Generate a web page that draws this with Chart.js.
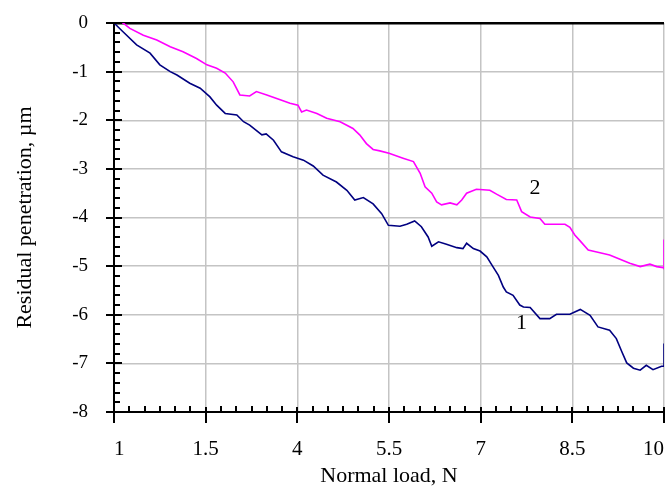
<!DOCTYPE html>
<html>
<head>
<meta charset="utf-8">
<script src="https://cdn.jsdelivr.net/npm/chart.js@4/dist/chart.umd.min.js"></script>
<style>
body { margin: 0; background: #fff; }
canvas { display: block; }
</style>
</head>
<body>
<canvas id="graph" width="666" height="490"></canvas>
<script>
// curve 1 (navy)
var blueX = [1.00,1.13,1.37,1.59,1.75,1.92,2.03,2.24,2.41,2.57,2.68,2.82,3.01,3.12,3.22,3.42,3.49,3.61,3.74,3.93,
    4.10,4.26,4.42,4.64,4.81,4.94,5.08,5.24,5.38,5.49,5.68,5.79,5.92,6.03,6.14,6.20,6.31,6.44,6.61,6.71,
    6.77,6.88,6.99,7.10,7.20,7.29,7.37,7.42,7.53,7.64,7.70,7.81,7.97,8.13,8.24,8.46,8.63,8.79,8.92,9.11,
    9.22,9.31,9.39,9.50,9.61,9.71,9.82,9.96,10.00,10.00];
var blueY = [0,-0.16,-0.45,-0.62,-0.86,-1.00,-1.07,-1.24,-1.34,-1.52,-1.69,-1.86,-1.89,-2.03,-2.10,-2.30,-2.28,-2.41,-2.65,-2.75,
    -2.82,-2.94,-3.13,-3.27,-3.44,-3.64,-3.59,-3.72,-3.92,-4.16,-4.18,-4.14,-4.07,-4.19,-4.40,-4.59,-4.50,-4.55,-4.62,-4.64,
    -4.53,-4.64,-4.69,-4.81,-5.01,-5.19,-5.43,-5.53,-5.60,-5.80,-5.84,-5.85,-6.08,-6.08,-5.99,-5.99,-5.89,-6.01,-6.25,-6.32,
    -6.49,-6.76,-6.99,-7.10,-7.14,-7.04,-7.13,-7.06,-7.06,-6.59];

// curve 2 (magenta)
var magX = [1.00,1.15,1.26,1.48,1.70,1.92,2.13,2.35,2.52,2.68,2.82,2.95,3.06,3.22,3.33,3.50,3.72,3.88,4.01,4.07,
    4.15,4.32,4.48,4.70,4.91,5.02,5.13,5.24,5.35,5.50,5.73,5.90,6.01,6.09,6.20,6.28,6.36,6.50,6.61,6.69,
    6.77,6.93,7.15,7.26,7.42,7.59,7.67,7.81,7.97,8.05,8.38,8.46,8.54,8.62,8.76,8.90,9.11,9.28,9.44,9.61,
    9.77,9.88,9.99,10.00,10.00];
var magY = [0,0,-0.11,-0.25,-0.35,-0.49,-0.59,-0.73,-0.86,-0.93,-1.03,-1.21,-1.48,-1.50,-1.41,-1.48,-1.58,-1.65,-1.69,-1.83,
    -1.79,-1.86,-1.96,-2.03,-2.17,-2.30,-2.48,-2.60,-2.63,-2.68,-2.78,-2.85,-3.09,-3.37,-3.50,-3.68,-3.74,-3.70,-3.74,-3.64,
    -3.50,-3.42,-3.44,-3.52,-3.63,-3.64,-3.88,-3.99,-4.02,-4.14,-4.14,-4.20,-4.36,-4.47,-4.67,-4.71,-4.77,-4.86,-4.94,-5.01,
    -4.96,-5.01,-5.03,-5.05,-4.45];

// x tick labels as printed on the original (second one reads 1.5)
var xTickValues = [1, 2.5, 4, 5.5, 7, 8.5, 10];
var xTickLabels = ['1', '1.5', '4', '5.5', '7', '8.5', '10'];

// curve numbers written next to the lines
var noteText = ['1', '2'];
var noteX = [7.67, 7.89];
var noteY = [-6.17, -3.40];

function toPoints(xs, ys)
{
    var pts = [];
    for (var i = 0; i < xs.length; i++) {
        pts.push({x: xs[i], y: ys[i]});
    }
    return pts;
}

var serif = "'Liberation Serif', 'Times New Roman', serif";

// minor/major tick marks and curve numbers
var axisMarks = {
    id: 'axisMarks',
    afterDraw: function(chart) {
        var ctx = chart.ctx;
        var xs = chart.scales.x;
        var ys = chart.scales.y;
        var left = chart.chartArea.left;
        var bottom = chart.chartArea.bottom;

        ctx.save();
        ctx.strokeStyle = '#000';
        ctx.lineWidth = 2;
        ctx.beginPath();
        // y axis: minor every 0.2, major every 1
        for (var k = 0; k <= 40; k++) {
            var py = Math.round(ys.getPixelForValue(-k * 0.2));
            if (k % 5 == 0) {
                ctx.moveTo(left - 8, py);
                ctx.lineTo(left + 8, py);
            } else {
                ctx.moveTo(left, py);
                ctx.lineTo(left + 6, py);
            }
        }
        // x axis: minor every 0.25, major every 1.5
        for (var j = 0; j <= 36; j++) {
            var px = Math.round(xs.getPixelForValue(1 + j * 0.25));
            if (j % 6 == 0) {
                ctx.moveTo(px, bottom - 5);
                ctx.lineTo(px, bottom + 11);
            } else {
                ctx.moveTo(px, bottom);
                ctx.lineTo(px, bottom - 6);
            }
        }
        ctx.stroke();

        ctx.fillStyle = '#000';
        ctx.font = '22px ' + serif;
        ctx.textAlign = 'center';
        ctx.textBaseline = 'middle';
        for (var n = 0; n < noteText.length; n++) {
            ctx.fillText(noteText[n], xs.getPixelForValue(noteX[n]), ys.getPixelForValue(noteY[n]));
        }
        ctx.restore();
    }
};

var ctx = document.getElementById('graph');

var myChart = new Chart(ctx, {
    type: 'line',
    data: {
        datasets: [
            {
                label: '1',
                data: toPoints(blueX, blueY),
                borderColor: '#000080',
                borderWidth: 1.6,
                pointRadius: 0,
                tension: 0,
                fill: false
            },
            {
                label: '2',
                data: toPoints(magX, magY),
                borderColor: '#ff00ff',
                borderWidth: 1.6,
                pointRadius: 0,
                tension: 0,
                fill: false
            }]
    },
    options: {
        responsive: false,
        animation: false,
        layout: {
            padding: {top: 23, right: 2, left: 0, bottom: 0}
        },
        plugins: {
            legend: {display: false},
            tooltip: {enabled: false}
        },
        scales: {
            x: {
                type: 'linear',
                min: 1,
                max: 10,
                afterBuildTicks: function(scale) {
                    scale.ticks = xTickValues.map(function(v) { return {value: v}; });
                },
                afterFit: function(scale) {
                    scale.height = 78;
                    scale.paddingLeft = 0;
                    scale.paddingRight = 0;
                },
                ticks: {
                    align: 'inner',
                    maxRotation: 0,
                    autoSkip: false,
                    padding: 25,
                    color: '#000',
                    font: {family: serif, size: 21},
                    callback: function(value, index) {
                        return xTickLabels[index];
                    }
                },
                grid: {
                    color: '#c4c4c4',
                    lineWidth: 1.5,
                    drawTicks: false
                },
                border: {color: '#000', width: 2},
                title: {
                    display: true,
                    text: 'Normal load, N',
                    color: '#000',
                    font: {family: serif, size: 22},
                    padding: {top: 0, bottom: 1}
                }
            },
            y: {
                type: 'linear',
                min: -8,
                max: 0,
                afterFit: function(scale) {
                    scale.width = 114;
                    scale.paddingTop = 0;
                    scale.paddingBottom = 0;
                },
                ticks: {
                    stepSize: 1,
                    padding: 26,
                    color: '#000',
                    font: {family: serif, size: 19}
                },
                grid: {
                    color: function(c) { return c.tick && c.tick.value === 0 ? '#000' : '#c4c4c4'; },
                    lineWidth: function(c) { return c.tick && c.tick.value === 0 ? 2.5 : 1.5; },
                    drawTicks: false
                },
                border: {color: '#000', width: 2},
                title: {
                    display: true,
                    text: 'Residual penetration, µm',
                    color: '#000',
                    font: {family: serif, size: 22},
                    padding: {top: 12, bottom: 0}
                }
            }
        }
    },
    plugins: [axisMarks]
});
</script>
</body>
</html>
